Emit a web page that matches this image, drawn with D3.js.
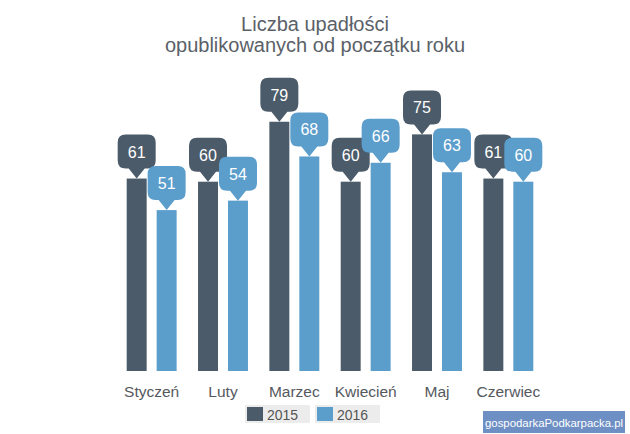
<!DOCTYPE html>
<html><head><meta charset="utf-8">
<script src="https://cdn.jsdelivr.net/npm/d3@7"></script>
<style>html,body{margin:0;padding:0;background:#fff;}svg{display:block;font-family:Arial,"Liberation Sans",sans-serif;}</style>
</head><body>
<svg id="c" width="630" height="434"></svg>
<script>
const titleLines = ["Liczba upadłości", "opublikowanych od początku roku"];
const categories = ["Styczeń", "Luty", "Marzec", "Kwiecień", "Maj", "Czerwiec"];
const seriesNames = ["2015", "2016"];
const values2015 = [61, 60, 79, 60, 75, 61];
const values2016 = [51, 54, 68, 66, 63, 60];
const colors = ["#4b5b69", "#5b9dcb"];
const watermark = "gospodarkaPodkarpacka.pl";

const series = [values2015, values2016];
const svg = d3.select("#c");

svg.append("g").selectAll("text").data(titleLines).join("text")
  .attr("x", 315).attr("y", (d, i) => 31 + i * 21)
  .attr("text-anchor", "middle").attr("font-size", 20).attr("fill", "#5a6168")
  .text(d => d);

const x0 = d3.scaleBand().domain(categories).range([116, 544]).paddingInner(0.3).paddingOuter(0.15);
const x1 = d3.scaleBand().domain(seriesNames).range([0, x0.bandwidth()]).paddingInner(1/3);
const y = d3.scaleLinear().domain([0, 100]).range([371, 55.5]);

const data = [];
categories.forEach((c, ci) => seriesNames.forEach((s, si) => data.push({c, s, si, v: series[si][ci]})));

svg.append("g").selectAll("rect").data(data).join("rect")
  .attr("x", d => x0(d.c) + x1(d.s)).attr("y", d => y(d.v))
  .attr("width", x1.bandwidth()).attr("height", d => y(0) - y(d.v))
  .attr("fill", d => colors[d.si]);

// callouts
const bw = 38, bh = 34, r = 8, ph = 10, pw = 8;
function calloutPath(cx, tip) {
  const top = tip - bh - ph, bot = tip - ph, l = cx - bw / 2, rr = cx + bw / 2;
  return `M${l + r},${top} H${rr - r} Q${rr},${top} ${rr},${top + r} V${bot - r} Q${rr},${bot} ${rr - r},${bot}
    H${cx + pw} L${cx},${tip} L${cx - pw},${bot} H${l + r} Q${l},${bot} ${l},${bot - r} V${top + r} Q${l},${top} ${l + r},${top} Z`;
}
const order = data.filter(d => d.si === 0).concat(data.filter(d => d.si === 1));
const cg = svg.append("g").selectAll("g").data(order).join("g");
cg.append("path")
  .attr("d", d => calloutPath(x0(d.c) + x1(d.s) + x1.bandwidth() / 2, y(d.v)))
  .attr("fill", d => colors[d.si]);
cg.append("text")
  .attr("x", d => x0(d.c) + x1(d.s) + x1.bandwidth() / 2)
  .attr("y", d => y(d.v) - ph - bh + 23)
  .attr("text-anchor", "middle").attr("font-size", 16).attr("fill", "#fff")
  .text(d => d.v);

// x axis labels
const xAxis = d3.axisBottom(x0).tickSize(0).tickPadding(0);
const ax = svg.append("g").attr("transform", "translate(0,383)").call(xAxis);
ax.select(".domain").remove();
ax.selectAll("text").attr("font-size", 15.5).attr("fill", "#55595e").attr("font-family", "Arial,'Liberation Sans',sans-serif").attr("dy", "0.93em");

// legend
const leg = svg.append("g").selectAll("g").data(seriesNames).join("g")
  .attr("transform", (d, i) => `translate(${245 + i * 70},405)`);
leg.append("rect").attr("width", 65).attr("height", 18).attr("fill", "#ececec");
leg.append("rect").attr("x", 2).attr("y", 2).attr("width", 16).attr("height", 14).attr("fill", (d, i) => colors[i]);
leg.append("text").attr("x", 22).attr("y", 15).attr("font-size", 14).attr("fill", "#555").text(d => d);

// watermark
svg.append("rect").attr("x", 483).attr("y", 411).attr("width", 142).attr("height", 22).attr("fill", "#6e8fc4");
svg.append("text").attr("x", 554).attr("y", 426.5).attr("text-anchor", "middle")
  .attr("font-size", 11.4).attr("fill", "#fff")
  .text(watermark);
</script>
</body></html>
